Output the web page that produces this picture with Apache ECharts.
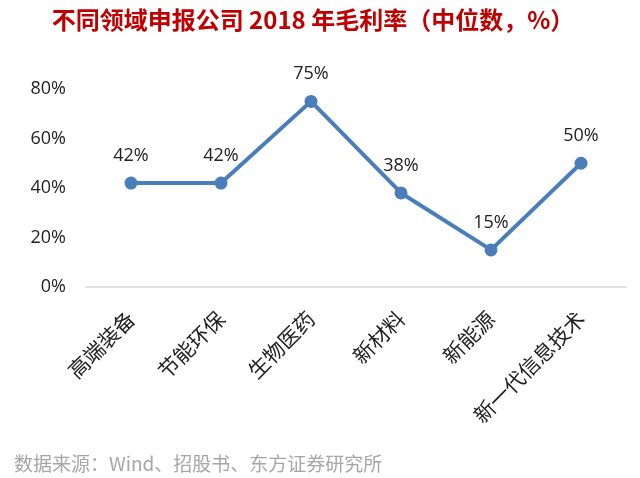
<!DOCTYPE html>
<html><head><meta charset="utf-8">
<script src="https://cdn.jsdelivr.net/npm/echarts@6/dist/echarts.min.js"></script>
<style>html,body{margin:0;padding:0;background:#fff}#c{width:640px;height:478px}</style>
</head><body><div id="c"></div>
<script>
const categories = ['高端装备','节能环保','生物医药','新材料','新能源','新一代信息技术'];
const values = [42, 42, 75, 38, 15, 50];
const yTicks = [0, 20, 40, 60, 80];
const titleText = '不同领域申报公司 2018 年毛利率（中位数，%）';
const sourceText = '数据来源：Wind、招股书、东方证券研究所';

const chart = echarts.init(document.getElementById('c'));
chart.setOption({
  backgroundColor: '#fff',
  animation: false,
  title: [{
    text: titleText, left: 308, top: 3, textAlign: 'center',
    textStyle: {color: '#c00000', fontSize: 24, fontWeight: 'bold', fontFamily: 'Noto Sans CJK SC'}
  }, {
    text: sourceText, left: 9, top: 449,
    textStyle: {color: '#a6a6a6', fontSize: 19, fontWeight: 'normal', fontFamily: 'Noto Sans CJK SC'}
  }],
  grid: {left: 86, right: 14, top: 89, bottom: 191},
  xAxis: {
    type: 'category', data: categories, boundaryGap: true,
    axisLine: {lineStyle: {color: '#d9d9d9', width: 1.5}},
    axisTick: {show: false},
    axisLabel: {rotate: 45, margin: 28, fontSize: 21, color: '#222', fontFamily: 'Noto Sans CJK SC', interval: 0}
  },
  yAxis: {
    type: 'value', min: yTicks[0], max: yTicks[yTicks.length-1], interval: 20,
    axisLine: {show: false}, axisTick: {show: false}, splitLine: {show: false},
    axisLabel: {formatter: '{value}%', fontSize: 18, color: '#222', margin: 20, fontFamily: 'Open Sans'}
  },
  series: [{
    type: 'line', data: values,
    lineStyle: {color: '#4a7ebb', width: 4},
    itemStyle: {color: '#4a7ebb'},
    symbol: 'circle', symbolSize: 13,
    label: {show: true, position: 'top', distance: 12, formatter: '{c}%', fontSize: 18, color: '#222', fontFamily: 'Open Sans'}
  }]
});
</script></body></html>
